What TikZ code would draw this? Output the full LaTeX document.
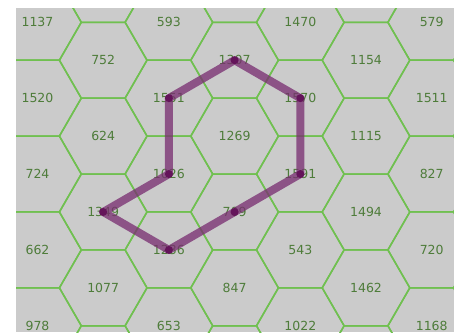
\documentclass[tikz,border=0pt]{standalone}
\usepackage{fontspec}
\setmainfont{DejaVu Sans}
\usepackage{xcolor}
\definecolor{cellgray}{RGB}{203,203,203}
\definecolor{gridgreen}{RGB}{112,192,80}
\definecolor{labelgreen}{RGB}{78,124,58}
\definecolor{tourpurple}{RGB}{120,44,112}
\definecolor{stoppurple}{RGB}{100,20,90}

\begin{document}
\begin{tikzpicture}[x=1pt,y=-1pt,
  cell/.style={font=\fontsize{12.5}{14}\selectfont,text=labelgreen,inner sep=0pt},
  hexedge/.style={gridgreen,line width=1.5pt},
  tour/.style={tourpurple,opacity=0.75,line width=8pt,line join=round}]
\useasboundingbox (0,0) rectangle (454,332);
\fill[cellgray] (16,8) rectangle (454,332);
\begin{scope}
\clip (16,8) rectangle (454,332);
\foreach \c in {-1,...,7}{
  \foreach \r in {-1,...,5}{
    \pgfmathsetmacro\cx{37.5+65.7*\c}
    \pgfmathsetmacro\cy{22.3+75.87*\r+37.93*mod(\c+2,2)}
    \draw[hexedge] (\cx,\cy) +(0:43.8) -- +(60:43.8) -- +(120:43.8) -- +(180:43.8) -- +(240:43.8) -- +(300:43.8) -- cycle;
  }}
\end{scope}
\foreach \c/\r/\t in {0/0/1137,0/1/1520,0/2/724,0/3/662,0/4/978,
  1/0/752,1/1/624,1/2/1349,1/3/1077,
  2/0/593,2/1/1551,2/2/1026,2/3/1236,2/4/653,
  3/0/1307,3/1/1269,3/2/709,3/3/847,
  4/0/1470,4/1/1570,4/2/1591,4/3/543,4/4/1022,
  5/0/1154,5/1/1115,5/2/1494,5/3/1462,
  6/0/579,6/1/1511,6/2/827,6/3/720,6/4/1168}
  \node[cell] (n\t) at ({37.5+65.7*\c},{22.3+75.87*\r+37.93*mod(\c,2)}) {\t};
\draw[tour] (n1307.center) -- (n1570.center) -- (n1591.center) -- (n709.center) -- (n1236.center) -- (n1349.center) -- (n1026.center) -- (n1551.center) -- cycle;
\foreach \s in {1307,1570,1591,709,1236,1349,1026,1551}
  \fill[stoppurple] (n\s.center) circle (4pt);
\end{tikzpicture}
\end{document}
